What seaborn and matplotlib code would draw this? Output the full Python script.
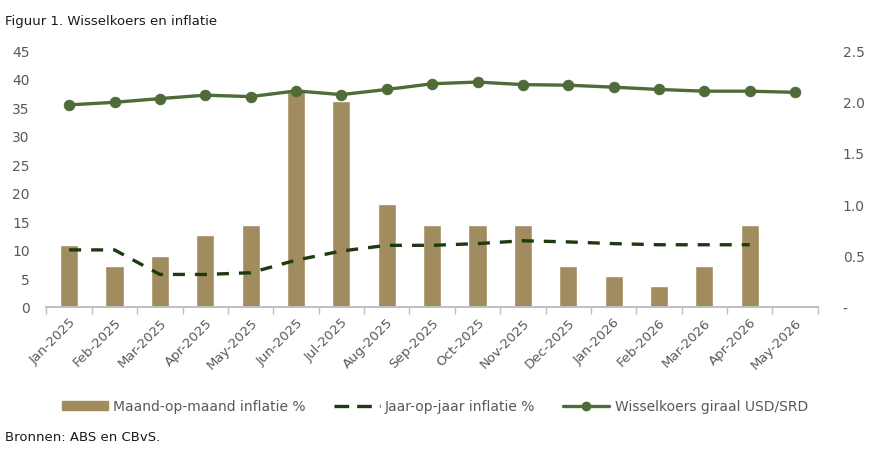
import numpy as np
import pandas as pd
import matplotlib
matplotlib.use("Agg")
import matplotlib.pyplot as plt
from matplotlib.patches import Patch
from matplotlib.lines import Line2D
from matplotlib.ticker import FuncFormatter, FixedLocator
import seaborn as sns

months = ["Jan-2025", "Feb-2025", "Mar-2025", "Apr-2025", "May-2025", "Jun-2025",
          "Jul-2025", "Aug-2025", "Sep-2025", "Oct-2025", "Nov-2025", "Dec-2025",
          "Jan-2026", "Feb-2026", "Mar-2026", "Apr-2026", "May-2026"]
mom_inflation = [0.6, 0.4, 0.5, 0.7, 0.8, 2.1, 2.0, 1.0, 0.8, 0.8, 0.8, 0.4,
                 0.3, 0.2, 0.4, 0.8, np.nan]
yoy_inflation = [10.0, 10.0, 5.7, 5.7, 6.0, 8.2, 9.8, 10.8, 10.8, 11.1, 11.6, 11.4,
                 11.1, 10.9, 10.9, 10.9, np.nan]
exchange_rate = [35.4, 35.85, 36.5, 37.1, 36.85, 37.85, 37.2, 38.1, 39.1, 39.4, 38.95,
                 38.85, 38.5, 38.1, 37.8, 37.8, 37.6]

labels = ["Maand-op-maand inflatie %", "Jaar-op-jaar inflatie %", "Wisselkoers giraal USD/SRD"]

sns.set_theme(style="white")
plt.rcParams['font.family'] = ['DejaVu Sans']

BAR = "#A08C5E"
LINE = "#4E6B38"
DASH = "#1E3A12"
TXT = "#595959"
DASHSTYLE = (0, (3.6, 3.0))

df = pd.DataFrame({"month": months, "mom": mom_inflation, "yoy": yoy_inflation,
                   "fx": exchange_rate, "pos": np.arange(len(months))})

fig = plt.figure(figsize=(8.7, 4.52), dpi=100)
ax = fig.add_axes([0.0534, 0.3186, 0.8866, 0.5684])
ax2 = ax.twinx()

sns.barplot(data=df, x="pos", y="mom", ax=ax2, color=BAR, width=0.4,
            saturation=1, native_scale=True, errorbar=None)
sns.lineplot(data=df, x="pos", y="yoy", ax=ax, color=DASH, linewidth=2.4,
             linestyle=DASHSTYLE)
sns.lineplot(data=df, x="pos", y="fx", ax=ax, color=LINE, linewidth=2.4,
             marker="o", markersize=7.5, markeredgecolor=LINE, markerfacecolor=LINE)

ax.set_zorder(ax2.get_zorder() + 1)
ax.patch.set_visible(False)

ax.set_xlim(-0.5, len(months) - 0.5)
ax2.set_xlim(-0.5, len(months) - 0.5)
ax.set_ylim(0, 45)
ax2.set_ylim(0, 2.5)
ax.set_yticks(np.arange(0, 46, 5))
ax2.set_yticks(np.arange(0, 2.51, 0.5))
ax2.yaxis.set_major_formatter(FuncFormatter(lambda v, p: "-" if abs(v) < 1e-9 else f"{v:.1f}"))

ax.set_xticks(np.arange(len(months)))
ax.set_xticklabels(months, rotation=45, ha="right", rotation_mode="anchor",
                   fontsize=9.5, color=TXT)
ax.xaxis.set_minor_locator(FixedLocator(np.arange(-0.5, len(months), 1.0)))
ax.tick_params(axis="x", which="major", length=0, pad=6)
ax.tick_params(axis="x", which="minor", length=5, color="#BFBFBF", width=1, bottom=True)
ax.tick_params(axis="y", length=0, labelsize=10, labelcolor=TXT, pad=12)
ax2.tick_params(axis="y", length=0, labelsize=10, labelcolor=TXT, pad=18)
ax2.tick_params(axis="x", bottom=False, labelbottom=False)

for a in (ax, ax2):
    a.set_xlabel("")
    a.set_ylabel("")
    for s in ("top", "left", "right"):
        a.spines[s].set_visible(False)
    a.spines["bottom"].set_color("#BFBFBF")
    a.grid(False)

handles = [Patch(facecolor=BAR, edgecolor=BAR),
           Line2D([0], [0], color=DASH, lw=2.4, linestyle=(0, (4.4, 2.4))),
           Line2D([0], [0], color=LINE, lw=2.4, marker="o", markersize=6)]
fig.legend(handles, labels, loc="center", bbox_to_anchor=(0.5, 0.099), ncol=3,
           frameon=False, fontsize=10, labelcolor=TXT, handlelength=3.3,
           handleheight=0.6, columnspacing=2.0, handletextpad=0.4)

fig.text(0.006, 0.952, "Figuur 1. Wisselkoers en inflatie", fontsize=9.5,
         color="#1a1a1a", ha="left", va="center")
fig.text(0.006, 0.031, "Bronnen: ABS en CBvS.", fontsize=9.5,
         color="#1a1a1a", ha="left", va="center")

fig.savefig("out.png", dpi=100, facecolor="white")
